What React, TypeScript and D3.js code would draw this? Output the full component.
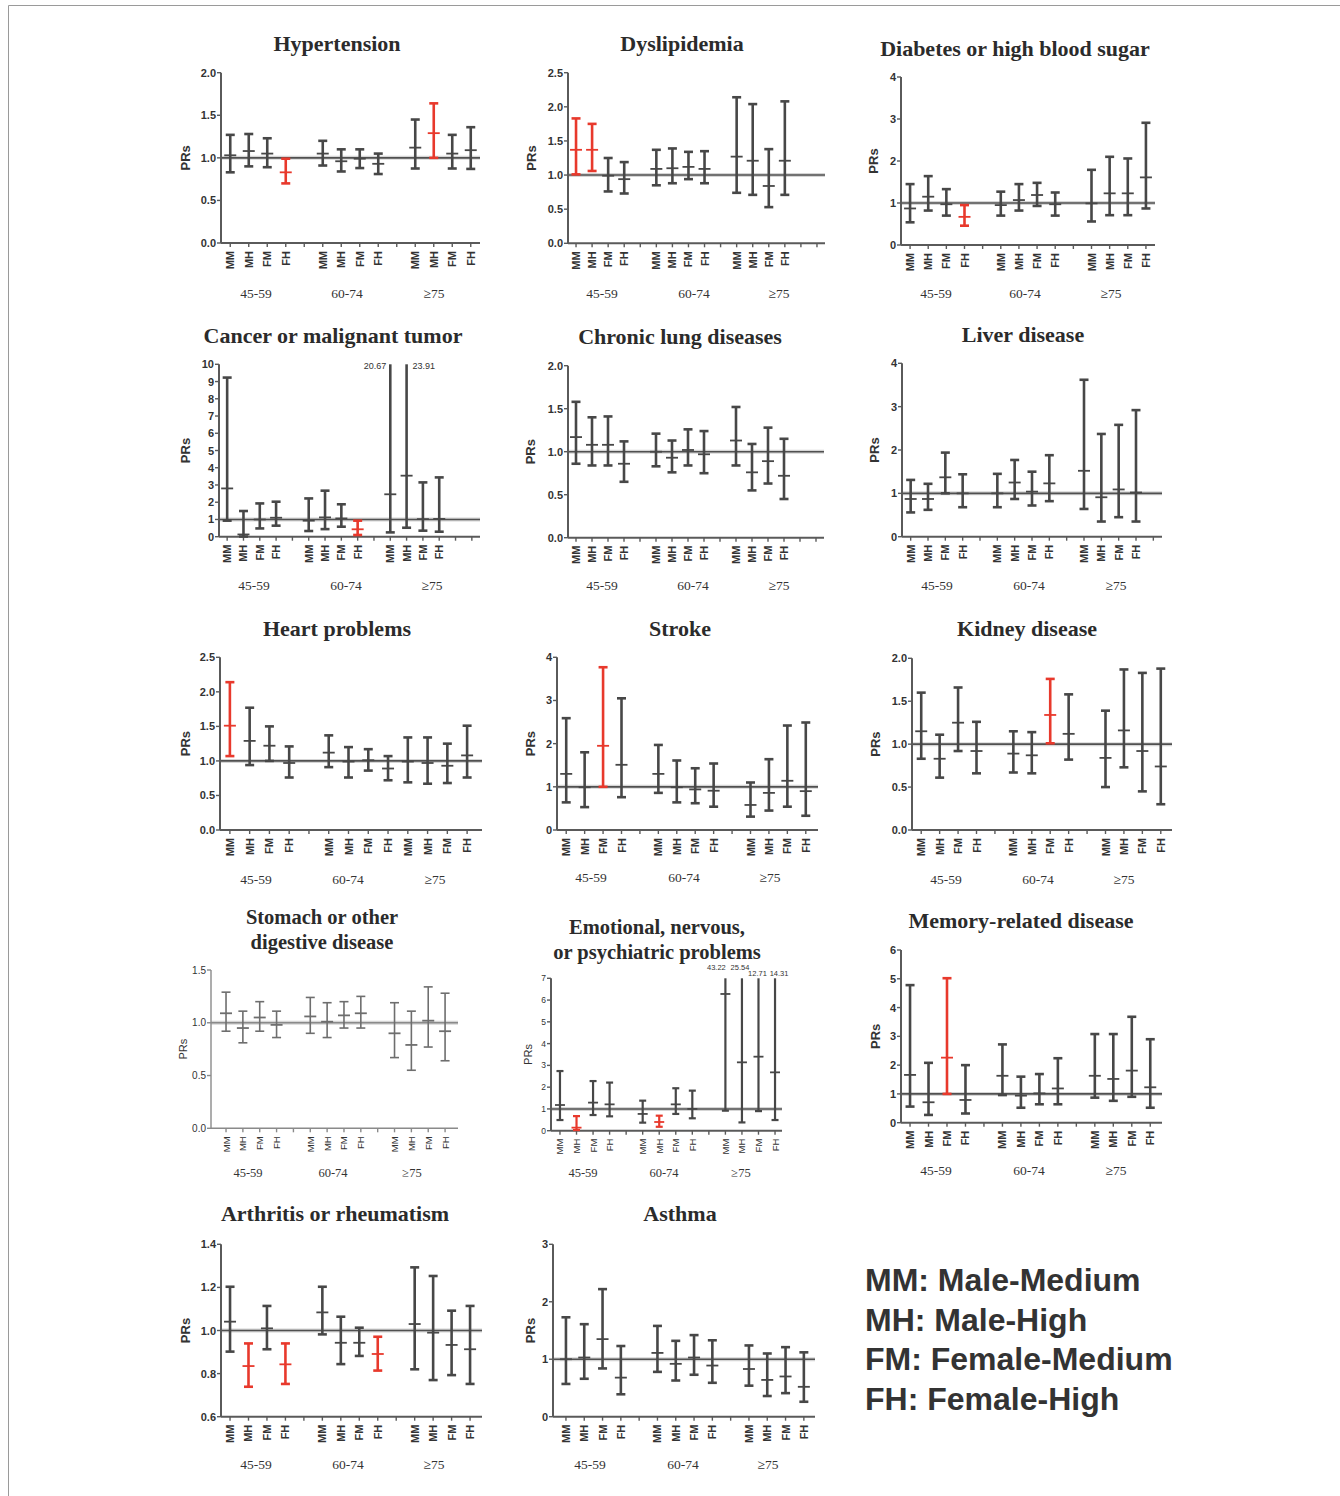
import React from "react";
import * as d3 from "d3";

// ---------- categories ----------
const sexIntensity = ["MM", "MH", "FM", "FH"];
const ageGroups = ["45-59", "60-74", "\u226575"];
const legendItems = ["MM: Male-Medium", "MH: Male-High", "FM: Female-Medium", "FH: Female-High"];

// ---------- data: [lower CI, PR, upper CI] for MM,MH,FM,FH x 45-59, 60-74, >=75 ----------
const hypertension = [
  [0.83, 1.03, 1.27], [0.9, 1.08, 1.28], [0.89, 1.05, 1.23], [0.7, 0.83, 0.99],
  [0.91, 1.05, 1.2], [0.84, 0.96, 1.1], [0.88, 0.99, 1.1], [0.81, 0.93, 1.05],
  [0.875, 1.12, 1.45], [1.0, 1.29, 1.64], [0.875, 1.05, 1.27], [0.87, 1.09, 1.36],
];
const hypertensionSig = [3, 9];

const dyslipidemia = [
  [1.01, 1.37, 1.83], [1.06, 1.37, 1.75], [0.76, 0.99, 1.25], [0.73, 0.94, 1.19],
  [0.85, 1.09, 1.37], [0.88, 1.1, 1.39], [0.94, 1.12, 1.34], [0.88, 1.09, 1.35],
  [0.74, 1.27, 2.14], [0.71, 1.21, 2.04], [0.53, 0.84, 1.38], [0.71, 1.21, 2.08],
];
const dyslipidemiaSig = [0, 1];

const diabetes = [
  [0.54, 0.87, 1.45], [0.82, 1.15, 1.64], [0.7, 0.97, 1.33], [0.46, 0.67, 0.95],
  [0.7, 0.95, 1.27], [0.82, 1.07, 1.45], [0.93, 1.19, 1.48], [0.7, 0.97, 1.25],
  [0.56, 0.99, 1.79], [0.71, 1.23, 2.1], [0.71, 1.23, 2.06], [0.87, 1.61, 2.91],
];
const diabetesSig = [3];

const cancer = [
  [0.93, 2.8, 9.23], [0.01, 0.13, 1.49], [0.48, 1.0, 1.93], [0.64, 1.1, 2.03],
  [0.33, 0.93, 2.22], [0.44, 1.12, 2.67], [0.58, 1.06, 1.88], [0.1, 0.43, 0.93],
  [0.25, 2.46, 20.67], [0.52, 3.54, 23.91], [0.35, 1.02, 3.15], [0.29, 1.03, 3.44],
];
const cancerSig = [7];

const chronicLung = [
  [0.86, 1.17, 1.58], [0.84, 1.08, 1.4], [0.84, 1.08, 1.41], [0.65, 0.86, 1.12],
  [0.83, 1.0, 1.21], [0.76, 0.93, 1.13], [0.84, 1.02, 1.26], [0.75, 0.97, 1.24],
  [0.84, 1.13, 1.52], [0.55, 0.76, 1.09], [0.63, 0.89, 1.28], [0.45, 0.72, 1.15],
];
const chronicLungSig: number[] = [];

const liver = [
  [0.56, 0.87, 1.31], [0.62, 0.87, 1.22], [1.0, 1.37, 1.94], [0.68, 1.0, 1.44],
  [0.68, 1.0, 1.45], [0.87, 1.25, 1.77], [0.72, 1.04, 1.5], [0.82, 1.23, 1.88],
  [0.64, 1.52, 3.62], [0.35, 0.91, 2.37], [0.45, 1.09, 2.58], [0.35, 1.02, 2.92],
];
const liverSig: number[] = [];

const heart = [
  [1.07, 1.51, 2.14], [0.94, 1.29, 1.77], [1.0, 1.22, 1.5], [0.76, 0.97, 1.21],
  [0.91, 1.12, 1.37], [0.76, 0.99, 1.2], [0.86, 1.01, 1.17], [0.72, 0.89, 1.07],
  [0.69, 0.99, 1.34], [0.67, 0.97, 1.34], [0.68, 0.93, 1.25], [0.76, 1.08, 1.51],
];
const heartSig = [0];

const stroke = [
  [0.64, 1.3, 2.59], [0.53, 0.99, 1.8], [1.0, 1.95, 3.77], [0.76, 1.51, 3.05],
  [0.86, 1.3, 1.97], [0.64, 0.99, 1.61], [0.62, 0.94, 1.43], [0.54, 0.91, 1.54],
  [0.31, 0.58, 1.1], [0.45, 0.86, 1.64], [0.54, 1.14, 2.42], [0.33, 0.9, 2.49],
];
const strokeSig = [2];

const kidney = [
  [0.83, 1.15, 1.6], [0.61, 0.83, 1.11], [0.92, 1.25, 1.66], [0.66, 0.92, 1.26],
  [0.67, 0.89, 1.15], [0.66, 0.87, 1.14], [1.01, 1.34, 1.76], [0.82, 1.12, 1.58],
  [0.5, 0.84, 1.39], [0.73, 1.16, 1.87], [0.45, 0.92, 1.83], [0.3, 0.74, 1.88],
];
const kidneySig = [6];

const stomach = [
  [0.92, 1.09, 1.29], [0.81, 0.95, 1.11], [0.92, 1.05, 1.2], [0.86, 0.98, 1.11],
  [0.9, 1.06, 1.24], [0.86, 1.01, 1.19], [0.95, 1.07, 1.2], [0.95, 1.09, 1.25],
  [0.67, 0.9, 1.19], [0.55, 0.79, 1.11], [0.77, 1.02, 1.34], [0.64, 0.92, 1.28],
];
const stomachSig: number[] = [];

const emotional = [
  [0.49, 1.18, 2.74], [0.03, 0.14, 0.67], [0.72, 1.29, 2.28], [0.66, 1.21, 2.21],
  [0.37, 0.77, 1.38], [0.18, 0.4, 0.69], [0.77, 1.21, 1.95], [0.57, 1.0, 1.84],
  [0.92, 6.28, 43.22], [0.38, 3.14, 25.54], [0.9, 3.4, 12.71], [0.49, 2.68, 14.31],
];
const emotionalSig = [1, 5];

const memory = [
  [0.56, 1.66, 4.78], [0.27, 0.71, 2.08], [1.0, 2.26, 5.02], [0.32, 0.79, 2.0],
  [0.96, 1.63, 2.72], [0.52, 0.94, 1.6], [0.64, 1.02, 1.69], [0.64, 1.19, 2.24],
  [0.87, 1.63, 3.08], [0.76, 1.52, 3.08], [0.9, 1.81, 3.68], [0.52, 1.23, 2.9],
];
const memorySig = [2];

const arthritis = [
  [0.902, 1.041, 1.203], [0.739, 0.835, 0.94], [0.913, 1.01, 1.114], [0.752, 0.843, 0.94],
  [0.982, 1.084, 1.203], [0.844, 0.943, 1.064], [0.882, 0.943, 1.013], [0.814, 0.891, 0.971],
  [0.82, 1.03, 1.293], [0.77, 0.99, 1.253], [0.793, 0.933, 1.092], [0.752, 0.913, 1.114],
];
const arthritisSig = [1, 3, 7];

const asthma = [
  [0.57, 1.0, 1.73], [0.66, 1.03, 1.61], [0.84, 1.35, 2.22], [0.39, 0.68, 1.23],
  [0.78, 1.11, 1.58], [0.63, 0.92, 1.32], [0.73, 1.03, 1.42], [0.59, 0.89, 1.33],
  [0.54, 0.83, 1.24], [0.36, 0.64, 1.1], [0.41, 0.7, 1.21], [0.26, 0.52, 1.12],
];
const asthmaSig: number[] = [];

// ---------- layout ----------
const defaultSlots = [0, 1, 2, 3, 5, 6, 7, 8, 10, 11, 12, 13];
const heartSlots = [0, 1, 2, 3, 5, 6, 7, 8, 9, 10, 11, 12];

type Ov = { dx: number; y: number; anchor: string };
type P = {
  title: string[]; titleX: number; titleY: number; data: number[][]; sig: number[];
  domain: [number, number]; tickCount: number; fmt: string;
  ax: number; axEnd: number; x0: number; x1: number; yTop: number; yBot: number;
  slots: number; barSlots?: number[]; prsX: number; groupX: number[]; groupY: number;
  light?: boolean; small?: boolean; titleSize?: number; ov?: Ov[];
};

const panels: P[] = [
  { title: ["Hypertension"], titleX: 337, titleY: 43, data: hypertension, sig: hypertensionSig, domain: [0, 2], tickCount: 4, fmt: ".1f",
    ax: 221, axEnd: 480, x0: 221, x1: 480, yTop: 72.7, yBot: 243, slots: 14, prsX: 185, groupX: [256, 347, 434], groupY: 293 },
  { title: ["Dyslipidemia"], titleX: 682, titleY: 43, data: dyslipidemia, sig: dyslipidemiaSig, domain: [0, 2.5], tickCount: 5, fmt: ".1f",
    ax: 568, axEnd: 825, x0: 568, x1: 825, yTop: 72.7, yBot: 243.3, slots: 16, prsX: 531, groupX: [602, 694, 779], groupY: 293 },
  { title: ["Diabetes or high blood sugar"], titleX: 1015, titleY: 48, data: diabetes, sig: diabetesSig, domain: [0, 4], tickCount: 4, fmt: "d",
    ax: 901, axEnd: 1155, x0: 901, x1: 1155, yTop: 77, yBot: 245, slots: 14, prsX: 873, groupX: [936, 1025, 1111], groupY: 293 },
  { title: ["Cancer or malignant tumor"], titleX: 333, titleY: 335, data: cancer, sig: cancerSig, domain: [0, 10], tickCount: 10, fmt: "d",
    ax: 219, axEnd: 480, x0: 219, x1: 480, yTop: 364.3, yBot: 536.7, slots: 16, prsX: 185, groupX: [254, 346, 432], groupY: 585,
    ov: [{ dx: -4, y: 366, anchor: "end" }, { dx: 6, y: 366, anchor: "start" }] },
  { title: ["Chronic lung diseases"], titleX: 680, titleY: 336, data: chronicLung, sig: chronicLungSig, domain: [0, 2], tickCount: 4, fmt: ".1f",
    ax: 568, axEnd: 824, x0: 568, x1: 824, yTop: 365.7, yBot: 537.7, slots: 16, prsX: 530, groupX: [602, 693, 779], groupY: 585 },
  { title: ["Liver disease"], titleX: 1023, titleY: 334, data: liver, sig: liverSig, domain: [0, 4], tickCount: 4, fmt: "d",
    ax: 902, axEnd: 1162, x0: 902, x1: 1162, yTop: 363.3, yBot: 536.7, slots: 15, prsX: 874, groupX: [937, 1029, 1116], groupY: 585 },
  { title: ["Heart problems"], titleX: 337, titleY: 628, data: heart, sig: heartSig, domain: [0, 2.5], tickCount: 5, fmt: ".1f",
    ax: 220, axEnd: 482, x0: 220, x1: 477, yTop: 657.3, yBot: 830, slots: 13, barSlots: heartSlots, prsX: 185, groupX: [256, 348, 435], groupY: 879 },
  { title: ["Stroke"], titleX: 680, titleY: 628, data: stroke, sig: strokeSig, domain: [0, 4], tickCount: 4, fmt: "d",
    ax: 557, axEnd: 818, x0: 557, x1: 815, yTop: 657.3, yBot: 830, slots: 14, prsX: 530, groupX: [591, 684, 770], groupY: 877 },
  { title: ["Kidney disease"], titleX: 1027, titleY: 628, data: kidney, sig: kidneySig, domain: [0, 2], tickCount: 4, fmt: ".1f",
    ax: 912, axEnd: 1172, x0: 912, x1: 1170, yTop: 658.3, yBot: 830, slots: 14, prsX: 875, groupX: [946, 1038, 1124], groupY: 879 },
  { title: ["Stomach or other", "digestive disease"], titleX: 322, titleY: 917, titleSize: 20.5, data: stomach, sig: stomachSig, domain: [0, 1.5], tickCount: 3, fmt: ".1f",
    ax: 211, axEnd: 458, x0: 217.6, x1: 453.5, yTop: 970, yBot: 1128.3, slots: 14, prsX: 183, groupX: [248, 333, 412], groupY: 1173, light: true },
  { title: ["Emotional, nervous,", "or psychiatric problems"], titleX: 657, titleY: 927, titleSize: 20.5, data: emotional, sig: emotionalSig, domain: [0, 7], tickCount: 7, fmt: "d",
    ax: 551, axEnd: 782, x0: 551.7, x1: 783.3, yTop: 978.3, yBot: 1130.7, slots: 14, prsX: 528, groupX: [583, 664, 741], groupY: 1173, small: true,
    ov: [{ dx: -9, y: 967, anchor: "middle" }, { dx: -2, y: 967, anchor: "middle" }, { dx: -1, y: 973, anchor: "middle" }, { dx: 4, y: 973, anchor: "middle" }] },
  { title: ["Memory-related disease"], titleX: 1021, titleY: 920, data: memory, sig: memorySig, domain: [0, 6], tickCount: 6, fmt: "d",
    ax: 901, axEnd: 1162, x0: 900.8, x1: 1159.5, yTop: 950, yBot: 1122.7, slots: 14, prsX: 875, groupX: [936, 1029, 1116], groupY: 1170 },
  { title: ["Arthritis or rheumatism"], titleX: 335, titleY: 1213, data: arthritis, sig: arthritisSig, domain: [0.6, 1.4], tickCount: 4, fmt: ".1f",
    ax: 221, axEnd: 482, x0: 220.8, x1: 479.3, yTop: 1244.3, yBot: 1416.7, slots: 14, prsX: 185, groupX: [256, 348, 434], groupY: 1464 },
  { title: ["Asthma"], titleX: 680, titleY: 1213, data: asthma, sig: asthmaSig, domain: [0, 3], tickCount: 3, fmt: "d",
    ax: 553, axEnd: 815, x0: 556.8, x1: 813, yTop: 1244.3, yBot: 1416.7, slots: 14, prsX: 530, groupX: [590, 683, 768], groupY: 1464 },
];

const RED = "#e8392c";
const GRAY = "#474747";
const SANS = "'Liberation Sans', Arial, sans-serif";
const SERIF = "'Liberation Serif', 'Times New Roman', serif";

function Panel({ p }: { p: P }) {
  const y = d3.scaleLinear().domain(p.domain).range([p.yBot, p.yTop]);
  const x = d3.scaleBand<number>().domain(d3.range(p.slots)).range([p.x0, p.x1]);
  const cx = (s: number) => (x(s) as number) + x.bandwidth() / 2;
  const slots = p.barSlots ?? defaultSlots;
  const fmt = d3.format(p.fmt);
  const axisColor = p.light ? "#8a8a8a" : "#5a5a5a";
  const barColor = p.light ? "#6e6e6e" : GRAY;
  const bw = p.light ? 1.6 : p.small ? 2.2 : 2.6;
  const tickFont = p.small ? 8.5 : 11;
  const capW = p.small ? 7 : 9;
  const midW = p.small ? 10 : 12;
  const tSize = p.titleSize ?? 22;
  let ovi = 0;
  return (
    <g>
      {p.title.map((t, i) => (
        <text key={i} x={p.titleX} y={p.titleY + i * 25} textAnchor="middle" dominantBaseline="central"
          fontFamily={SERIF} fontWeight="bold" fontSize={tSize} fill="#2b2b2b">{t}</text>
      ))}
      {/* reference line at PR = 1 */}
      <line x1={p.ax} x2={p.axEnd} y1={y(1)} y2={y(1)} stroke="#c4c4c4" strokeWidth={4} opacity={0.7} />
      <line x1={p.ax} x2={p.axEnd} y1={y(1)} y2={y(1)} stroke={p.light ? "#8a8a8a" : "#505050"} strokeWidth={1.6} />
      {/* y axis */}
      <line x1={p.ax} x2={p.ax} y1={p.yTop} y2={p.yBot} stroke={axisColor} strokeWidth={p.light ? 1.4 : 2} />
      {y.ticks(p.tickCount).map((t) => (
        <g key={t}>
          <line x1={p.ax - 4} x2={p.ax} y1={y(t)} y2={y(t)} stroke={axisColor} strokeWidth={1.4} />
          <text x={p.ax - 5} y={y(t)} textAnchor="end" dominantBaseline="central" fontFamily={SANS}
            fontWeight={p.small || p.light ? "normal" : "bold"} fontSize={p.light ? 10 : tickFont} fill="#333">{fmt(t)}</text>
        </g>
      ))}
      <text transform={`translate(${p.prsX},${(p.yTop + p.yBot) / 2}) rotate(-90)`} textAnchor="middle" dominantBaseline="central"
        fontFamily={SANS} fontWeight={p.light || p.small ? "normal" : "bold"} fontSize={p.small || p.light ? 11 : 13} fill="#333">PRs</text>
      {/* x axis */}
      <line x1={p.ax} x2={p.axEnd} y1={p.yBot} y2={p.yBot} stroke={axisColor} strokeWidth={p.light ? 1.4 : 2} />
      {d3.range(p.slots).map((s) => (
        <line key={s} x1={cx(s)} x2={cx(s)} y1={p.yBot} y2={p.yBot + 4} stroke={axisColor} strokeWidth={1.4} />
      ))}
      {slots.map((s, i) => (
        <text key={"l" + i} transform={`translate(${cx(s)},${p.yBot + 8}) rotate(-90)`} textAnchor="end" dominantBaseline="central"
          fontFamily={SANS} fontWeight={p.light || p.small ? "normal" : "bold"} fontSize={p.small || p.light ? 9.5 : 11} fill="#333">
          {sexIntensity[i % 4]}
        </text>
      ))}
      {ageGroups.map((g, i) => (
        <text key={g} x={p.groupX[i]} y={p.groupY} textAnchor="middle" dominantBaseline="central"
          fontFamily={SERIF} fontSize={p.small || p.light ? 12.5 : 13.5} fill="#333">{g}</text>
      ))}
      {/* error bars */}
      {p.data.map((d, i) => {
        const [lo, mid, hi] = d;
        const c = cx(slots[i]);
        const col = p.sig.includes(i) ? RED : barColor;
        const clipped = hi > p.domain[1];
        const yHi = y(Math.min(hi, p.domain[1]));
        const yLo = y(Math.max(lo, p.domain[0]));
        let label = null;
        if (clipped && p.ov) {
          const o = p.ov[ovi++];
          label = (
            <text x={c + o.dx} y={o.y} textAnchor={o.anchor} dominantBaseline="central" fontFamily={SANS}
              fontSize={p.small ? 7.5 : 9} fill="#333">{d3.format(".2f")(hi)}</text>
          );
        }
        return (
          <g key={"b" + i}>
            <line x1={c} x2={c} y1={yLo} y2={yHi} stroke={col} strokeWidth={bw} />
            {!clipped && <line x1={c - capW / 2} x2={c + capW / 2} y1={yHi} y2={yHi} stroke={col} strokeWidth={bw} />}
            <line x1={c - capW / 2} x2={c + capW / 2} y1={yLo} y2={yLo} stroke={col} strokeWidth={bw} />
            <line x1={c - midW / 2} x2={c + midW / 2} y1={y(mid)} y2={y(mid)} stroke={col} strokeWidth={1.8} />
            {label}
          </g>
        );
      })}
    </g>
  );
}

export default function App() {
  return (
    <svg width={1340} height={1496} style={{ position: "absolute", left: 0, top: 0, background: "#fff" }}>
      <rect x={0} y={0} width={1340} height={1496} fill="#fff" />
      <line x1={8.5} x2={1340} y1={5.5} y2={5.5} stroke="#9a9a9a" strokeWidth={1} />
      <line x1={8.5} x2={8.5} y1={5.5} y2={1496} stroke="#9a9a9a" strokeWidth={1} />
      {panels.map((p, i) => (
        <Panel key={i} p={p} />
      ))}
      {legendItems.map((t, i) => (
        <text key={t} x={865} y={1291 + i * 39.5} fontFamily={SANS} fontWeight="bold" fontSize={32} fill="#333">{t}</text>
      ))}
    </svg>
  );
}
